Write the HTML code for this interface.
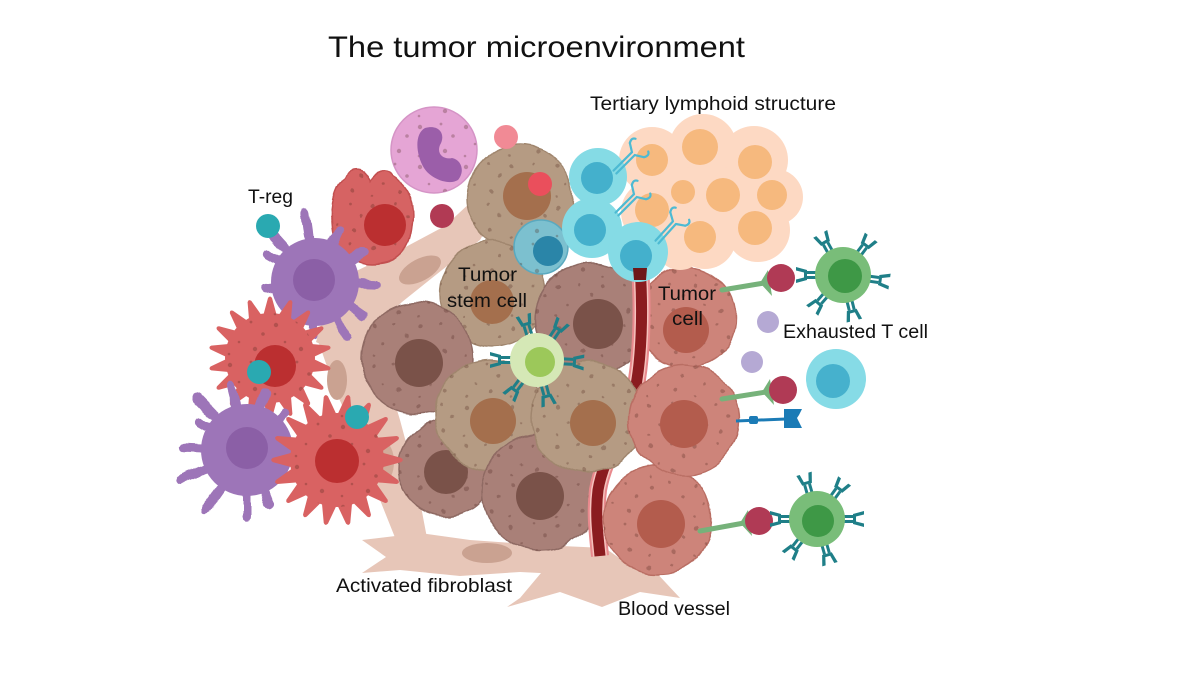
<!DOCTYPE html>
<html><head><meta charset="utf-8">
<style>
html,body{margin:0;padding:0;background:#fff}
svg{display:block}
text{font-family:"Liberation Sans",sans-serif;fill:#111}
</style></head>
<body>
<svg width="1200" height="675" viewBox="0 0 1200 675" xmlns="http://www.w3.org/2000/svg">
<defs>
<filter id="w" x="-20%" y="-20%" width="140%" height="140%">
<feTurbulence type="fractalNoise" baseFrequency="0.05" numOctaves="1" seed="4"/>
<feDisplacementMap in="SourceGraphic" scale="8" xChannelSelector="R" yChannelSelector="G"/>
</filter>
<filter id="wt" x="-30%" y="-30%" width="160%" height="160%">
<feTurbulence type="fractalNoise" baseFrequency="0.06" numOctaves="1" seed="7"/>
<feDisplacementMap in="SourceGraphic" scale="9" xChannelSelector="R" yChannelSelector="G"/>
</filter>
<pattern id="dt" width="46" height="40" patternUnits="userSpaceOnUse">
<circle cx="6" cy="7" r="2.2" fill="#4a2418" fill-opacity=".28"/>
<circle cx="27" cy="4" r="1.4" fill="#4a2418" fill-opacity=".28"/>
<circle cx="39" cy="16" r="1.8" fill="#4a2418" fill-opacity=".28"/>
<circle cx="15" cy="24" r="1.3" fill="#4a2418" fill-opacity=".28"/>
<circle cx="31" cy="31" r="2.2" fill="#4a2418" fill-opacity=".28"/>
<circle cx="5" cy="36" r="1.3" fill="#4a2418" fill-opacity=".28"/>
</pattern>
<rect id="tn" x="-4.5" y="-62" width="9" height="62" rx="4.5"/>
<path id="sp" d="M-8,-38 L-2,-60 Q0,-63 2,-60 L8,-38 Z"/>
<g id="rc" fill="#1f7f88">
<rect x="-4" y="-12" width="3" height="12"/><rect x="1" y="-12" width="3" height="12"/>
<path d="M-8,-23 L-5,-12 L5,-12 L8,-23 L4.5,-23 L2.5,-15 L-2.5,-15 L-4.5,-23 Z"/>
</g>
<g id="ab" stroke="#4dbad3" stroke-width="2.2" fill="none" stroke-linecap="round">
<path d="M-2,0 V-26 M2,0 V-26 M-2,-26 L-10,-31 M2,-26 L10,-31"/>
<path d="M-10,-31 q-3,-5 1,-7 M10,-31 q3,-5 -1,-7"/>
</g>
</defs>

<rect width="1200" height="675" fill="#fff"/>

<!-- Title -->
<text x="328" y="57" font-size="30" textLength="417" lengthAdjust="spacingAndGlyphs">The tumor microenvironment</text>

<!-- Fibroblast -->
<g fill="#e7c6b8">
<path d="M497,178 L508,192 L480,240 L442,270 L402,302 L368,334 L340,354 L316,342 L328,300 L350,274 L400,250 L445,226 Z"/>
<path d="M316,335 L365,318 L382,360 L400,420 L416,480 L427,538 L398,545 L380,500 L358,440 L336,392 Z"/>
<path d="M362,540 L420,533 L470,540 L540,545 L605,548 L622,560 L600,576 L520,572 L460,576 L400,570 L362,573 L386,557 Z"/>
<path d="M562,548 L520,598 L507,607 L560,592 L602,607 L640,592 L680,598 L652,568 L610,556 Z"/>
</g>
<ellipse cx="420" cy="270" rx="23" ry="11" transform="rotate(-28 420 270)" fill="#caa291"/>
<ellipse cx="337" cy="380" rx="10" ry="20" fill="#caa291"/>
<ellipse cx="384" cy="462" rx="10" ry="20" fill="#d2ab9a"/>
<ellipse cx="487" cy="553" rx="25" ry="10" fill="#caa291"/>

<!-- Tumor cells -->
<g><g filter="url(#w)"><circle cx="446" cy="468" r="48" fill="#a98078" stroke="#8f6a63" stroke-width="1.5"/><circle cx="446" cy="468" r="48" fill="url(#dt)"/></g><circle cx="446" cy="472" r="22" fill="#7a5249"/></g>
<g><g filter="url(#w)"><circle cx="520" cy="198" r="53" fill="#b59b83" stroke="#a0866e" stroke-width="1.5"/><circle cx="520" cy="198" r="53" fill="url(#dt)"/></g><circle cx="527" cy="196" r="24" fill="#a46f4d"/></g>
<g><g filter="url(#w)"><circle cx="493" cy="294" r="53" fill="#b59b83" stroke="#a0866e" stroke-width="1.5"/><circle cx="493" cy="294" r="53" fill="url(#dt)"/></g><circle cx="492" cy="302" r="22" fill="#a46f4d"/></g>
<g><g filter="url(#w)"><circle cx="417" cy="358" r="56" fill="#a98078" stroke="#8f6a63" stroke-width="1.5"/><circle cx="417" cy="358" r="56" fill="url(#dt)"/></g><circle cx="419" cy="363" r="24" fill="#7a5249"/></g>
<g><g filter="url(#w)"><circle cx="490" cy="415" r="55" fill="#b59b83" stroke="#a0866e" stroke-width="1.5"/><circle cx="490" cy="415" r="55" fill="url(#dt)"/></g><circle cx="493" cy="421" r="23" fill="#a46f4d"/></g>
<g><g filter="url(#w)"><circle cx="592" cy="320" r="57" fill="#a98078" stroke="#8f6a63" stroke-width="1.5"/><circle cx="592" cy="320" r="57" fill="url(#dt)"/></g><circle cx="598" cy="324" r="25" fill="#7a5249"/></g>
<g><g filter="url(#w)"><circle cx="686" cy="318" r="50" fill="#cd847a" stroke="#b96e64" stroke-width="1.5"/><circle cx="686" cy="318" r="50" fill="url(#dt)"/></g><circle cx="686" cy="330" r="23" fill="#b35c4d"/></g>
<g><g filter="url(#w)"><circle cx="540" cy="492" r="58" fill="#a98078" stroke="#8f6a63" stroke-width="1.5"/><circle cx="540" cy="492" r="58" fill="url(#dt)"/></g><circle cx="540" cy="496" r="24" fill="#7a5249"/></g>

<!-- Blood vessel -->
<path d="M640,266 C643,310 642,360 634,395 C625,430 604,455 598,490 C595,515 598,535 600,556" fill="none" stroke="#e8898d" stroke-width="18"/>
<path d="M640,266 C643,310 642,360 634,395 C625,430 604,455 598,490 C595,515 598,535 600,556" fill="none" stroke="#f6c2bd" stroke-width="14"/>
<path d="M640,266 C643,310 642,360 634,395 C625,430 604,455 598,490 C595,515 598,535 600,556" fill="none" stroke="#8a1c1f" stroke-width="11"/>

<g><g filter="url(#w)"><circle cx="587" cy="417" r="56" fill="#b59b83" stroke="#a0866e" stroke-width="1.5"/><circle cx="587" cy="417" r="56" fill="url(#dt)"/></g><circle cx="593" cy="423" r="23" fill="#a46f4d"/></g>
<g><g filter="url(#w)"><circle cx="658" cy="520" r="54" fill="#cd847a" stroke="#b96e64" stroke-width="1.5"/><circle cx="658" cy="520" r="54" fill="url(#dt)"/></g><circle cx="661" cy="524" r="24" fill="#b35c4d"/></g>
<g><g filter="url(#w)"><circle cx="684" cy="420" r="55" fill="#cd847a" stroke="#b96e64" stroke-width="1.5"/><circle cx="684" cy="420" r="55" fill="url(#dt)"/></g><circle cx="684" cy="424" r="24" fill="#b35c4d"/></g>

<!-- Light green T cell -->
<g transform="translate(537,360)">
<use href="#rc" transform="rotate(-17) translate(0,-24)"/>
<use href="#rc" transform="rotate(34) translate(0,-24)"/>
<use href="#rc" transform="rotate(93) translate(0,-24)"/>
<use href="#rc" transform="rotate(165) translate(0,-24)"/>
<use href="#rc" transform="rotate(217) translate(0,-24)"/>
<use href="#rc" transform="rotate(270) translate(0,-24)"/>
<circle r="27" fill="#d5e8b6"/>
<circle cx="3" cy="2" r="15" fill="#9cc85a"/>
</g>

<!-- Tertiary lymphoid structure -->
<g fill="#fdd9c3">
<circle cx="652" cy="160" r="33"/><circle cx="703" cy="148" r="34"/><circle cx="754" cy="160" r="34"/>
<circle cx="775" cy="197" r="28"/><circle cx="758" cy="230" r="32"/><circle cx="705" cy="238" r="31"/>
<circle cx="653" cy="212" r="32"/><circle cx="700" cy="195" r="30"/><circle cx="738" cy="195" r="30"/>
<circle cx="680" cy="245" r="25"/>
</g>
<g fill="#f6b97e">
<circle cx="652" cy="160" r="16"/><circle cx="700" cy="147" r="18"/><circle cx="755" cy="162" r="17"/>
<circle cx="652" cy="210" r="17"/><circle cx="723" cy="195" r="17"/><circle cx="772" cy="195" r="15"/>
<circle cx="755" cy="228" r="17"/><circle cx="700" cy="237" r="16"/><circle cx="683" cy="192" r="12"/>
</g>

<!-- dotted cell -->
<circle cx="541" cy="247" r="27" fill="#7cc0cf" stroke="#5aa9bf" stroke-width="1.5"/>
<circle cx="541" cy="247" r="27" fill="url(#dt)"/>
<circle cx="548" cy="251" r="15" fill="#2a85a8"/>

<!-- B cells -->
<circle cx="598" cy="177" r="29" fill="#85dbe5"/><circle cx="597" cy="178" r="16" fill="#44b0cc"/>
<circle cx="592" cy="228" r="30" fill="#85dbe5"/><circle cx="590" cy="230" r="16" fill="#44b0cc"/>
<circle cx="638" cy="252" r="30" fill="#85dbe5"/><circle cx="636" cy="256" r="16" fill="#44b0cc"/>
<path d="M633,268 L647,268 L646,280 L634,280 Z" fill="#6e1618"/>
<use href="#ab" transform="translate(615,172) rotate(45)"/>
<use href="#ab" transform="translate(617,214) rotate(45)"/>
<use href="#ab" transform="translate(657,242) rotate(42)"/>

<!-- Neutrophil & small dots -->
<circle cx="434" cy="150" r="43" fill="#e5a5d5" stroke="#d594c6" stroke-width="1.5"/>
<circle cx="434" cy="150" r="43" fill="url(#dt)"/>
<path d="M425,128 C440,124 446,135 440,145 C436,155 445,160 452,158 C462,160 465,172 458,180 C448,186 430,178 424,168 C416,155 414,134 425,128 Z" fill="#9b5ea9"/>
<circle cx="506" cy="137" r="12" fill="#f18a95"/>
<circle cx="540" cy="184" r="12" fill="#ea4f5c"/>
<circle cx="442" cy="216" r="12" fill="#b13a54"/>

<!-- Macrophage -->
<g filter="url(#w)">
<path d="M345,178 C352,166 366,170 370,180 C374,172 386,166 392,176 C406,184 416,200 412,226 C410,246 400,261 380,263 C358,266 340,256 334,236 C329,214 333,190 345,178 Z" fill="#d66363" stroke="#c24f50" stroke-width="1.5"/>
<path d="M345,178 C352,166 366,170 370,180 C374,172 386,166 392,176 C406,184 416,200 412,226 C410,246 400,261 380,263 C358,266 340,256 334,236 C329,214 333,190 345,178 Z" fill="url(#dt)"/>
</g>
<circle cx="385" cy="225" r="21" fill="#bb2f30"/>

<!-- Purple dendritic 1 -->
<g transform="translate(315,282)" fill="#9d75b8">
<g filter="url(#wt)">
<use href="#tn" transform="rotate(-42) scale(1,1.12)"/>
<use href="#tn" transform="rotate(-8) scale(1,1.2)"/>
<use href="#tn" transform="rotate(25) scale(1,1.0)"/>
<use href="#tn" transform="rotate(58) scale(1,1.0)"/>
<use href="#tn" transform="rotate(92) scale(1,1.05)"/>
<use href="#tn" transform="rotate(125) scale(1,1.0)"/>
<use href="#tn" transform="rotate(150) scale(1,1.1)"/>
<use href="#tn" transform="rotate(182) scale(1,0.95)"/>
<use href="#tn" transform="rotate(220) scale(1,0.9)"/>
<use href="#tn" transform="rotate(262) scale(1,0.9)"/>
<use href="#tn" transform="rotate(300) scale(1,0.95)"/>
</g>
<circle r="44"/>
<circle cx="-1" cy="-2" r="21" fill="#8b5fa6"/>
</g>

<!-- Red spiky 1 -->
<g transform="translate(270,358)" fill="#d96262">
<use href="#sp" transform="rotate(0)"/><use href="#sp" transform="rotate(20)"/><use href="#sp" transform="rotate(40)"/>
<use href="#sp" transform="rotate(60)"/><use href="#sp" transform="rotate(80)"/><use href="#sp" transform="rotate(100)"/>
<use href="#sp" transform="rotate(120)"/><use href="#sp" transform="rotate(140)"/><use href="#sp" transform="rotate(160)"/>
<use href="#sp" transform="rotate(180)"/><use href="#sp" transform="rotate(200)"/><use href="#sp" transform="rotate(220)"/>
<use href="#sp" transform="rotate(240)"/><use href="#sp" transform="rotate(260)"/><use href="#sp" transform="rotate(280)"/>
<use href="#sp" transform="rotate(300)"/><use href="#sp" transform="rotate(320)"/><use href="#sp" transform="rotate(340)"/>
<circle r="45"/>
<circle r="45" fill="url(#dt)"/>
<circle cx="5" cy="8" r="21" fill="#bb2f30"/>
</g>

<!-- Purple dendritic 2 -->
<g transform="translate(247,450)" fill="#9d75b8">
<g filter="url(#wt)">
<use href="#tn" transform="rotate(-44) scale(1,1.25)"/>
<use href="#tn" transform="rotate(-14) scale(1,1.15)"/>
<use href="#tn" transform="rotate(18) scale(1,1.05)"/>
<use href="#tn" transform="rotate(47) scale(1,0.95)"/>
<use href="#tn" transform="rotate(158) scale(1,1.0)"/>
<use href="#tn" transform="rotate(180) scale(1,1.15)"/>
<use href="#tn" transform="rotate(215) scale(1,1.25)"/>
<use href="#tn" transform="rotate(246) scale(1,1.25)"/>
<use href="#tn" transform="rotate(272) scale(1,1.1)"/>
<use href="#tn" transform="rotate(300) scale(1,0.95)"/>
</g>
<circle r="46"/>
<circle cx="0" cy="-2" r="21" fill="#8b5fa6"/>
</g>

<!-- Red spiky 2 -->
<g transform="translate(337,460)" fill="#d96262">
<use href="#sp" transform="rotate(10) scale(1.07)"/><use href="#sp" transform="rotate(30) scale(1.07)"/><use href="#sp" transform="rotate(50) scale(1.07)"/>
<use href="#sp" transform="rotate(70) scale(1.07)"/><use href="#sp" transform="rotate(90) scale(1.07)"/><use href="#sp" transform="rotate(110) scale(1.07)"/>
<use href="#sp" transform="rotate(130) scale(1.07)"/><use href="#sp" transform="rotate(150) scale(1.07)"/><use href="#sp" transform="rotate(170) scale(1.07)"/>
<use href="#sp" transform="rotate(190) scale(1.07)"/><use href="#sp" transform="rotate(210) scale(1.07)"/><use href="#sp" transform="rotate(230) scale(1.07)"/>
<use href="#sp" transform="rotate(250) scale(1.07)"/><use href="#sp" transform="rotate(270) scale(1.07)"/><use href="#sp" transform="rotate(290) scale(1.07)"/>
<use href="#sp" transform="rotate(310) scale(1.07)"/><use href="#sp" transform="rotate(330) scale(1.07)"/><use href="#sp" transform="rotate(350) scale(1.07)"/>
<circle r="47"/>
<circle r="47" fill="url(#dt)"/>
<circle cx="0" cy="1" r="22" fill="#bb2f30"/>
</g>

<!-- teal T-reg dots -->
<circle cx="268" cy="226" r="12" fill="#2aa9b1"/>
<circle cx="259" cy="372" r="12" fill="#2aa9b1"/>
<circle cx="357" cy="417" r="12" fill="#2aa9b1"/>

<!-- Right side: sticks and T cells -->
<g stroke="#76b27a" stroke-width="5" stroke-linecap="round" fill="none">
<line x1="722" y1="290" x2="764" y2="283"/>
<line x1="722" y1="399" x2="766" y2="392"/>
<line x1="700" y1="531" x2="744" y2="523"/>
</g>
<g fill="#76b27a">
<path d="M760,283 L768,270 L772,296 Z"/>
<path d="M762,392 L770,379 L774,405 Z"/>
<path d="M740,523 L748,510 L752,536 Z"/>
</g>
<circle cx="781" cy="278" r="14" fill="#b03a55"/>
<circle cx="783" cy="390" r="14" fill="#b03a55"/>
<circle cx="759" cy="521" r="14" fill="#b03a55"/>

<circle cx="768" cy="322" r="11" fill="#b5a9d4"/>
<circle cx="752" cy="362" r="11" fill="#b5a9d4"/>

<circle cx="836" cy="379" r="30" fill="#86dbe6"/>
<circle cx="833" cy="381" r="17" fill="#46b1cd"/>

<!-- blue antibody -->
<line x1="736" y1="421" x2="786" y2="419" stroke="#1b7bb6" stroke-width="3"/>
<rect x="749" y="416" width="9" height="8" rx="2" fill="#1b7bb6"/>
<path d="M784,409 L802,409 L799,415 L797,418 L799,422 L802,428 L784,428 Z" fill="#1b7bb6"/>

<g transform="translate(843,275)">
<use href="#rc" transform="rotate(-29) translate(0,-24)"/>
<use href="#rc" transform="rotate(37) translate(0,-24)"/>
<use href="#rc" transform="rotate(98) translate(0,-24)"/>
<use href="#rc" transform="rotate(166) translate(0,-24)"/>
<use href="#rc" transform="rotate(221) translate(0,-24)"/>
<use href="#rc" transform="rotate(270) translate(0,-24)"/>
<circle r="28" fill="#79bd79"/>
<circle cx="2" cy="1" r="17" fill="#3e9846"/>
</g>
<g transform="translate(817,519)">
<use href="#rc" transform="rotate(-16) translate(0,-24)"/>
<use href="#rc" transform="rotate(36) translate(0,-24)"/>
<use href="#rc" transform="rotate(90) translate(0,-24)"/>
<use href="#rc" transform="rotate(164) translate(0,-24)"/>
<use href="#rc" transform="rotate(218) translate(0,-24)"/>
<use href="#rc" transform="rotate(270) translate(0,-24)"/>
<circle r="28" fill="#79bd79"/>
<circle cx="1" cy="2" r="16" fill="#3e9846"/>
</g>

<!-- Labels -->
<text x="590" y="110" font-size="19" textLength="246" lengthAdjust="spacingAndGlyphs">Tertiary lymphoid structure</text>
<text x="248" y="203" font-size="19" textLength="45" lengthAdjust="spacingAndGlyphs">T-reg</text>
<text x="458" y="281" font-size="19" textLength="59" lengthAdjust="spacingAndGlyphs">Tumor</text>
<text x="447" y="307" font-size="19" textLength="80" lengthAdjust="spacingAndGlyphs">stem cell</text>
<text x="658" y="300" font-size="19" textLength="58" lengthAdjust="spacingAndGlyphs">Tumor</text>
<text x="672" y="325" font-size="19" textLength="31" lengthAdjust="spacingAndGlyphs">cell</text>
<text x="783" y="338" font-size="19" textLength="145" lengthAdjust="spacingAndGlyphs">Exhausted T cell</text>
<text x="336" y="592" font-size="19" textLength="176" lengthAdjust="spacingAndGlyphs">Activated fibroblast</text>
<text x="618" y="615" font-size="19" textLength="112" lengthAdjust="spacingAndGlyphs">Blood vessel</text>
</svg>
</body></html>
